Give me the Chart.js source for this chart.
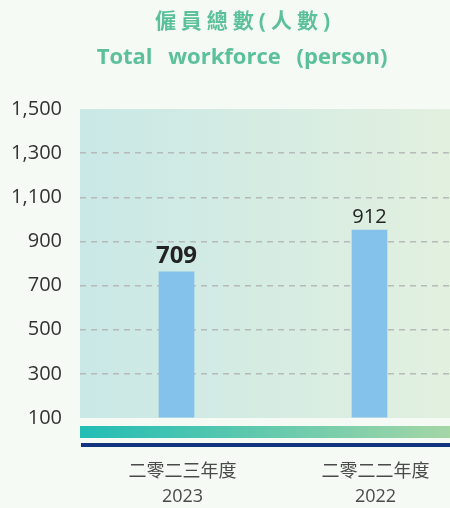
<!DOCTYPE html>
<html>
<head>
<meta charset="utf-8">
<script src="https://cdn.jsdelivr.net/npm/chart.js@4/dist/chart.umd.min.js"></script>
<style>
  html, body { margin: 0; padding: 0; background: #f5faf4; overflow: hidden; }
  #wrap { position: relative; width: 450px; height: 508px; overflow: hidden; }
  #chart { position: absolute; left: 0; top: 0; }
  .title { position: absolute; left: 17px; width: 450px; text-align: center; color: #5cc19a;
           font-family: "Open Sans", "Noto Sans CJK TC", sans-serif; font-weight: 700; }
  #t1 { top: 4px; left: 20px; font-size: 21px; letter-spacing: 5px; }
  #t2 { top: 40px; font-size: 22px; word-spacing: 10px; }
</style>
</head>
<body>
<div id="wrap">
  <canvas id="chart" width="466" height="508"></canvas>
  <div class="title" id="t1">僱員總數(人數)</div>
  <div class="title" id="t2">Total workforce (person)</div>
</div>
<script>
// data
var years = [['二零二三年度', '2023'], ['二零二二年度', '2022']];
var workforce = [709, 912];
var yLabels = ['100', '300', '500', '700', '900', '1,100', '1,300', '1,500'];
var yMax = 1500;

// plot background + bands under the axis
var bgPlugin = {
  id: 'bg',
  beforeDraw: function(chart) {
    var c = chart.ctx, a = chart.chartArea;
    var g = c.createLinearGradient(a.left, 0, 450, 0);
    g.addColorStop(0, '#c9e8e6');
    g.addColorStop(1, '#e2f0df');
    c.save();
    c.fillStyle = g;
    c.fillRect(a.left, a.top, a.right - a.left, a.bottom - a.top);
    var g2 = c.createLinearGradient(a.left, 0, 450, 0);
    g2.addColorStop(0, '#22bdb5');
    g2.addColorStop(1, '#a4d6a6');
    c.fillStyle = g2;
    c.fillRect(a.left, a.bottom + 8, a.right - a.left, 12);
    c.fillStyle = '#13357f';
    c.fillRect(a.left + 1, a.bottom + 25, a.right - a.left, 4);
    c.restore();
  }
};

// value labels above bars
var valuePlugin = {
  id: 'values',
  afterDatasetsDraw: function(chart) {
    var c = chart.ctx;
    var meta = chart.getDatasetMeta(0);
    c.save();
    c.textAlign = 'center';
    c.textBaseline = 'alphabetic';
    c.fillStyle = '#222222';
    meta.data.forEach(function(bar, i) {
      if (i === 0) {
        c.font = 'bold 24px "Open Sans", sans-serif';
        c.fillText(workforce[i], bar.x, bar.y - 9);
      } else {
        c.font = '20px "Open Sans", sans-serif';
        c.fillText(workforce[i], bar.x, bar.y - 7);
      }
    });
    c.restore();
  }
};

var ctx = document.getElementById('chart').getContext('2d');
var myChart = new Chart(ctx, {
  type: 'bar',
  data: {
    labels: years,
    datasets: [{
      data: workforce,
      backgroundColor: '#84c1eb',
      barThickness: 35
    }]
  },
  options: {
    responsive: false,
    animation: false,
    devicePixelRatio: 1,
    layout: { padding: { top: 109, left: 0, right: 0, bottom: 0 } },
    plugins: {
      legend: { display: false },
      tooltip: { enabled: false }
    },
    scales: {
      x: {
        grid: { display: false, drawTicks: false },
        border: { display: false },
        ticks: {
          padding: 41,
          labelOffset: 6,
          color: '#4a4a4a',
          font: { family: '"Open Sans", "Noto Sans CJK TC", sans-serif', size: 18, lineHeight: 1.4 }
        },
        afterFit: function(scale) { scale.height = 90; }
      },
      y: {
        min: 0,
        max: yMax,
        grid: {
          drawTicks: false,
          lineWidth: 1.5,
          color: function(c) {
            return (c.index === 0 || c.index === yLabels.length - 1) ? 'rgba(0,0,0,0)' : '#b6bab9';
          }
        },
        border: { display: false, dash: [6, 5] },
        afterBuildTicks: function(scale) {
          scale.ticks = yLabels.map(function(l, i) {
            return { value: i * yMax / (yLabels.length - 1) };
          });
        },
        ticks: {
          padding: 18,
          color: '#333333',
          font: { family: '"Open Sans", sans-serif', size: 20 },
          callback: function(v, i) { return yLabels[i]; }
        },
        afterFit: function(scale) { scale.width = 80; }
      }
    }
  },
  plugins: [bgPlugin, valuePlugin]
});
</script>
</body>
</html>
